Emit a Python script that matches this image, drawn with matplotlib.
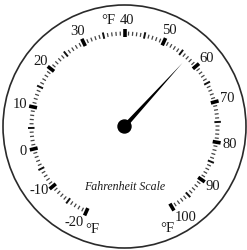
import numpy as np
import matplotlib.pyplot as plt
from matplotlib.patches import Circle, Polygon

# scale data
t_min, t_max = -20, 100
major_vals = [-20, -10, 0, 10, 20, 30, 40, 50, 60, 70, 80, 90, 100]
major_labels = ['-20', '-10', '0', '10', '20', '30', '40', '50', '60', '70', '80', '90', '100']
title = 'Fahrenheit Scale'
unit = '°F'
reading = 57

cx, cy = 124.5, 126.5
R_face = 121.5

plt.rcParams['font.family'] = ['Liberation Serif', 'DejaVu Serif']

# small hand nudges of some labels (pixels), and where the unit sits next to them
nudge = {-20: (-6, 0), -10: (-2, -4), 40: (2, 0), 100: (5, 0)}
unit_off = {-20: (18, -7), 40: (-18, 1), 100: (-18, -11)}


def angle(v):
    # 40 at the top, values increase clockwise (left half a bit wider, as in the print)
    if v <= 40:
        deg = 90 + (40 - v) * 2.597
    else:
        deg = 90 - (v - 40) * 2.492
    return np.deg2rad(deg)


def pt(r, a):
    return cx + r * np.cos(a), cy - r * np.sin(a)


fig = plt.figure(figsize=(2.47, 2.50), dpi=100)
ax = fig.add_axes([0, 0, 1, 1])
ax.set_xlim(0, 247)
ax.set_ylim(250, 0)
ax.set_aspect('equal')
ax.axis('off')

ax.add_patch(Circle((cx, cy), R_face, fill=False, ec='#2a2a2a', lw=1.2))

for v in range(t_min, t_max + 1):
    a = angle(v)
    if v % 10 == 0:
        r0, r1, lw, c = 89.5, 97.5, 2.6, 'black'
    elif v % 5 == 0:
        r0, r1, lw, c = 90, 96.5, 1.4, '#111111'
    else:
        r0, r1, lw, c = 91, 95, 0.9, '#444444'
    (x0, y0), (x1, y1) = pt(r0, a), pt(r1, a)
    ax.plot([x0, x1], [y0, y1], color=c, lw=lw, solid_capstyle='butt')

tfont = dict(fontsize=10.5, color='#1a1a1a', ha='center', va='center')
for v, lab in zip(major_vals, major_labels):
    a = angle(v)
    x, y = pt(101, a)
    w = 6 * len(lab.lstrip('-')) + (4 if lab.startswith('-') else 0)
    x += w / 2 * np.cos(a)
    y -= 4.5 * np.sin(a)
    dx, dy = nudge.get(v, (0, 0))
    x, y = x + dx, y + dy
    ax.text(x, y, lab, **tfont)
    if v in unit_off:
        ax.annotate(unit, (x, y), xytext=unit_off[v], textcoords='offset pixels', **tfont)

ax.text(cx, 187, title, ha='center', va='center',
        style='italic', fontsize=8.6, color='#1a1a1a')

# needle
a = angle(reading)
tip = pt(86, a)
w = 2.2
base1 = pt(w, a + np.pi / 2)
base2 = pt(w, a - np.pi / 2)
ax.add_patch(Polygon([base1, tip, base2], closed=True, color='black', lw=0))
ax.add_patch(Circle((cx, cy), 6.5, color='black'))

fig.savefig('out.png', dpi=100)
